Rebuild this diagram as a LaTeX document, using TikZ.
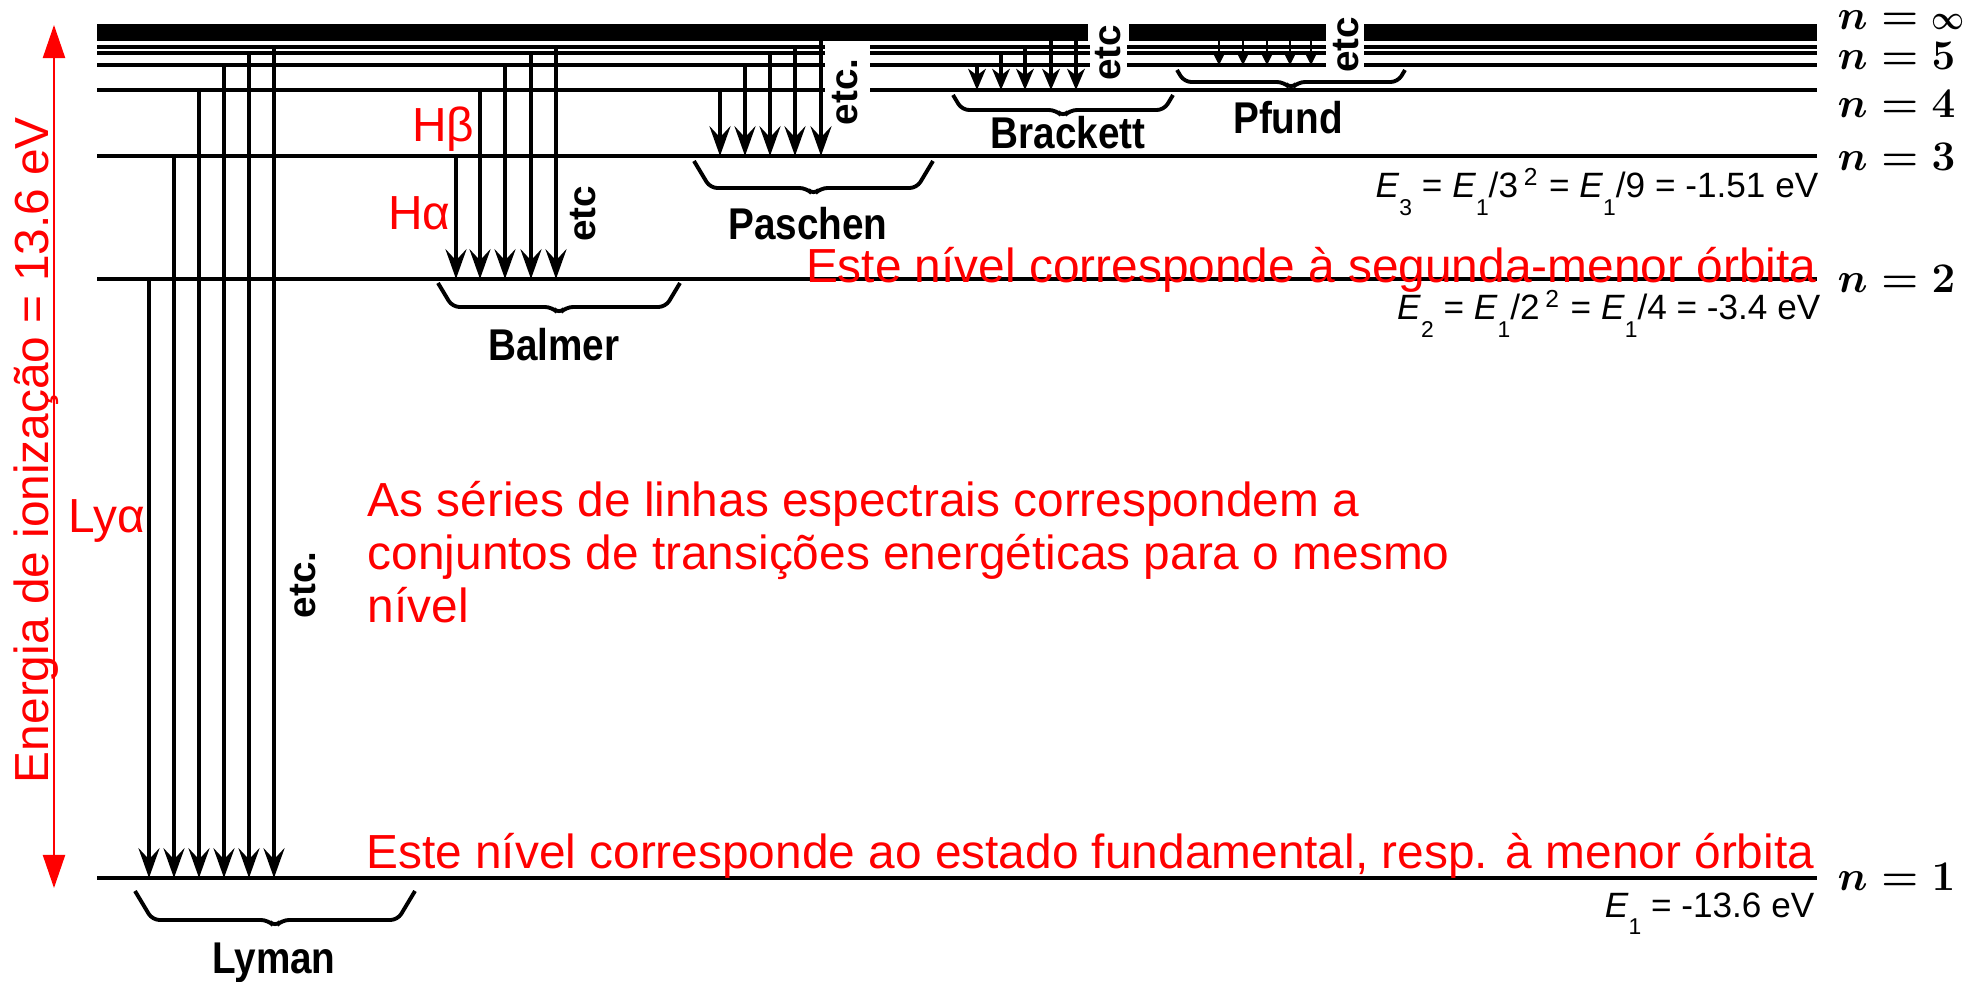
\documentclass[tikz,border=0pt]{standalone}
\usepackage[no-math]{fontspec}
\setmainfont{Liberation Sans}
\usepackage{amsmath}
\usepackage{graphicx}
\usepackage{tikz}
\usetikzlibrary{arrows.meta,positioning,calc}
\tikzstyle{nivel} = [line width=1.4pt]
\tikzstyle{subnivel} = [line width=0.9pt]
\tikzstyle{transicao} = [line width=1.1pt, -{Stealth[length=8.5pt, width=6pt, inset=3.2pt]}]
\tikzstyle{transcurta} = [line width=1pt, -{Stealth[length=6pt, width=5pt, inset=1.8pt]}]
\tikzstyle{transmini} = [line width=0.8pt, -{Stealth[length=3.6pt, width=3.6pt, inset=1pt]}]
\tikzstyle{chavelinha} = [line width=1.1pt, rounded corners=2pt]
\tikzstyle{serie} = [font=\fontsize{11}{13}\selectfont\bfseries, inner sep=0pt, yscale=1.15]
\tikzstyle{etcrot} = [font=\fontsize{11}{13}\selectfont\bfseries, inner sep=0pt, rotate=90]
\tikzstyle{nota} = [text=red, font=\fontsize{13.6}{15.1}\selectfont, inner sep=0pt]
\tikzstyle{energia} = [font=\fontsize{10}{12}\selectfont, inner sep=0pt]
\tikzstyle{rotulo} = [font=\fontsize{13}{15}\selectfont\boldmath, inner sep=0pt, anchor=base west]
\newcommand{\chave}[4]{% x1, x2, y topo, y fundo
  \draw[chavelinha] (#1,#3) -- ({#1+0.6*(#4-#3)},#4) -- ({(#1+#2)/2-7},#4)
    -- ({(#1+#2)/2},{#4+7}) -- ({(#1+#2)/2+7},#4) -- ({#2-0.6*(#4-#3)},#4) -- (#2,#3);}
\newcommand{\infinito}{\scalebox{0.68}[0.8]{$\infty$}}
\newcommand{\ind}[1]{\raisebox{-0.5em}{\fontsize{6.5}{7}\selectfont #1}}
\begin{document}
\begin{tikzpicture}[x=0.01cm, y=-0.01cm]
\useasboundingbox (0,0) rectangle (1974,982);

% Niveis de energia
\coordinate (L1) at (0,878);
\coordinate (L2) at (0,279);
\coordinate (L3) at (0,156);
\coordinate (L4) at (0,90);
\coordinate (L5) at (0,65);
\coordinate (L6) at (0,53);
\coordinate (L7) at (0,47);
\coordinate (Lb) at (0,41);

\fill (97,24) rectangle (1088,41);
\fill (1129,24) rectangle (1326,41);
\fill (1364,24) rectangle (1817,41);
\foreach \n in {1,2,3}
  \draw[nivel] (97,0 |- L\n) -- (1817,0 |- L\n);
\draw[nivel] (97,0 |- L4) -- (825,0 |- L4) (870,0 |- L4) -- (1817,0 |- L4);
\foreach \n in {5,6,7}
  \foreach \a/\b in {97/825, 870/1090, 1127/1326, 1364/1817}
    \draw[subnivel] (\a,0 |- L\n) -- (\b,0 |- L\n);

% Transicoes
\foreach \x/\u in {149/2, 174/3, 199/4, 224/5, 249/6, 274/7}
  \draw[transicao] (\x,0 |- L\u) -- (\x,0 |- L1);
\foreach \x/\u in {456/3, 480/4, 505/5, 531/6, 556/7}
  \draw[transicao] (\x,0 |- L\u) -- (\x,0 |- L2);
\foreach \x/\u in {720/4, 745/5, 770/6, 795/7, 821/b}
  \draw[transicao] (\x,0 |- L\u) -- (\x,0 |- L3);
\foreach \x/\u in {977/5, 1001/6, 1025/7, 1051/b, 1076/b}
  \draw[transcurta] (\x,0 |- L\u) -- (\x,0 |- L4);
\foreach \x in {1219, 1243, 1267, 1290, 1311}
  \draw[transmini] (\x,0 |- Lb) -- (\x,0 |- L5);

% Series
\chave{135}{415}{891}{920}
\chave{438}{680}{283}{307}
\chave{694}{933}{161}{188}
\chave{953}{1173}{95}{110}
\chave{1177}{1405}{70}{82}
\node[serie] (lyman) at (274,963) {Lyman};
\node[serie] (balmer) at (554,345) {Balmer};
\node[serie] (paschen) at (808,224) {Paschen};
\node[serie] (brackett) at (1068,133) {Brackett};
\node[serie] (pfund) at (1288,118) {Pfund};
\node[etcrot] (etclyman) at (303,585) {etc.};
\node[etcrot] (etcbalmer) at (583,214) {etc};
\node[etcrot] (etcpaschen) at (845,92) {etc.};
\node[etcrot] (etcbrackett) at (1108,53) {etc};
\node[etcrot] (etcpfund) at (1346,45) {etc};

% Rotulos dos niveis
\node[rotulo] (ninf) at (1837,30) {$n = \infinito$};
\node[rotulo] (n5) at (1837,70) {$n = 5$};
\node[rotulo] (n4) at (1837,118) {$n = 4$};
\node[rotulo] (n3) at (1837,171) {$n = 3$};
\node[rotulo] (n2) at (1837,293) {$n = 2$};
\node[rotulo] (n1) at (1837,890) {$n = 1$};
\node[energia, anchor=base east] (E3) at (1819,198)
  {\textit{E}\ind{3} = \textit{E}\ind{1}/3\,\textsuperscript{2} = \textit{E}\ind{1}/9 = -1.51 eV};
\node[energia, anchor=base east] (E2) at (1821,320)
  {\textit{E}\ind{2} = \textit{E}\ind{1}/2\,\textsuperscript{2} = \textit{E}\ind{1}/4 = -3.4 eV};
\node[energia, anchor=base east] (E1) at (1815,917)
  {\textit{E}\ind{1} = -13.6 eV};

% Energia de ionizacao
\coordinate (ionsup) at (54,25);
\coordinate (ioninf) at (54,888);
\draw[red, line width=0.5pt, {Triangle[length=9.4pt, width=6.3pt]}-{Triangle[length=9.4pt, width=6.3pt]}] (ionsup) -- (ioninf);
\node[nota, rotate=90, anchor=base] (ionizacao) at (48,450) {Energia de ionização = 13.6 eV};

% Notas
\node[nota, anchor=base east] (lya) at (146,533) {Lyα};
\node[nota, anchor=base east] (hb) at (475,142) {Hβ};
\node[nota, anchor=base east] (ha) at (451,230) {Hα};
\node[nota, anchor=base east] (segunda) at (1817,283) {Este nível corresponde à segunda-menor órbita};
\node[nota, anchor=base east] (fundamental) at (1815,868) {Este nível corresponde ao estado fundamental, resp. à menor órbita};
\node[nota, anchor=base west, align=left] (series) at (367,623)
  {As séries de linhas espectrais correspondem a\\conjuntos de transições energéticas para o mesmo\\nível};

\end{tikzpicture}
\end{document}
